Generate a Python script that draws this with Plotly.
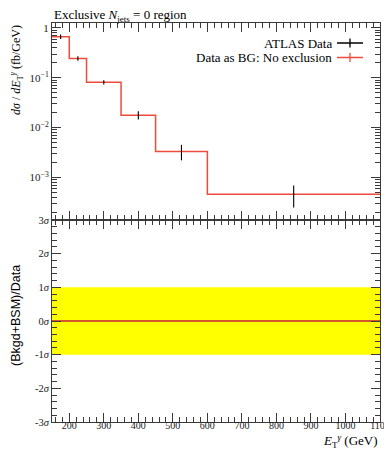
import plotly.graph_objects as go
from plotly.subplots import make_subplots

# ---- data ----
bin_edges = [150, 200, 250, 350, 450, 600, 1100]
bin_centers = [175, 225, 300, 400, 525, 850]
data_values = [0.67, 0.245, 0.081, 0.0177, 0.0033, 0.00046]
data_err_up = [0.07, 0.025, 0.008, 0.0036, 0.0012, 0.00023]
data_err_dn = [0.07, 0.025, 0.008, 0.0032, 0.0011, 0.00021]
bg_values = [0.67, 0.245, 0.081, 0.0177, 0.0033, 0.00046]
ratio_values = [0, 0, 0, 0, 0, 0]
band_lo = [-1, -1, -1, -1, -1, -1]
band_hi = [1, 1, 1, 1, 1, 1]
logy_ticks = [1e-3, 1e-2, 1e-1, 1]
logy_text = ["10<sup>−3</sup>", "10<sup>−2</sup>", "10<sup>−1</sup>", "1"]
logy_minor = [k * 10.0 ** d for d in range(-4, 1) for k in range(2, 10)]
sig_ticks = [-3, -2, -1, 0, 1, 2, 3]
sig_text = ["-3<i>σ</i>", "-2<i>σ</i>", "-1<i>σ</i>", "0<i>σ</i>", "1<i>σ</i>", "2<i>σ</i>", "3<i>σ</i>"]
x_ticks = [200, 300, 400, 500, 600, 700, 800, 900, 1000, 1100]

RED = "#EE4B3A"
AX = "#3a3a3a"
SERIF = "Liberation Serif, DejaVu Serif, serif"
SANS = "Liberation Sans, Arial, sans-serif"
LOGRANGE = [-3.854, 0.1]

fig = make_subplots(rows=2, cols=1, shared_xaxes=True, vertical_spacing=0,
                    row_heights=[197, 202])

def step(vals):
    return list(vals) + [vals[-1]]

# top panel
fig.add_trace(go.Scatter(x=bin_edges, y=step(bg_values), mode="lines", line_shape="hv",
                         line=dict(color=RED, width=1.5), showlegend=False,
                         hoverinfo="skip"), row=1, col=1)
fig.add_trace(go.Scatter(x=bin_centers, y=data_values, mode="markers",
                         marker=dict(size=1, color="black"),
                         error_y=dict(type="data", array=data_err_up, arrayminus=data_err_dn,
                                      color="black", thickness=1.1, width=0),
                         showlegend=False), row=1, col=1)
# invisible trace so the minor-tick overlay axis is drawn
fig.add_trace(go.Scatter(x=bin_centers[:1], y=data_values[:1], mode="markers",
                         marker=dict(size=1, opacity=0), xaxis="x", yaxis="y3",
                         showlegend=False, hoverinfo="skip"))

# bottom panel: band
fig.add_trace(go.Scatter(x=bin_edges, y=step(band_lo), mode="lines", line_shape="hv",
                         line=dict(width=0, color="yellow"), showlegend=False,
                         hoverinfo="skip"), row=2, col=1)
fig.add_trace(go.Scatter(x=bin_edges, y=step(band_hi), mode="lines", line_shape="hv",
                         line=dict(width=0, color="yellow"), fill="tonexty",
                         fillcolor="#FFFF00", showlegend=False, hoverinfo="skip"), row=2, col=1)
fig.add_trace(go.Scatter(x=bin_edges, y=step(ratio_values), mode="lines", line_shape="hv",
                         line=dict(color="black", width=1.2), showlegend=False,
                         hoverinfo="skip"), row=2, col=1)
fig.add_trace(go.Scatter(x=bin_edges, y=step(ratio_values), mode="lines", line_shape="hv",
                         line=dict(color=RED, width=1.4), showlegend=False,
                         hoverinfo="skip"), row=2, col=1)

common_x = dict(range=[150, 1100], tickvals=x_ticks, ticks="inside", ticklen=9,
                tickcolor=AX, showline=True, linecolor=AX, linewidth=1, mirror="ticks",
                showgrid=False, zeroline=False, automargin=False, ticklabeloverflow="allow",
                minor=dict(dtick=20, tick0=0, ticks="inside", ticklen=5, tickcolor=AX, showgrid=False),
                tickfont=dict(family=SERIF, size=10, color="#222"))
fig.update_xaxes(**common_x)
fig.update_xaxes(showticklabels=False, row=1, col=1)
fig.update_xaxes(ticklabelstandoff=-6, row=2, col=1)

fig.update_yaxes(type="log", range=LOGRANGE, tickvals=logy_ticks, ticktext=logy_text,
                 ticks="inside", ticklen=9, tickcolor=AX, showline=True, linecolor=AX,
                 mirror="ticks", showgrid=False, zeroline=False, automargin=False,
                 tickfont=dict(family=SERIF, size=11, color="#222"), row=1, col=1)
fig.update_yaxes(range=[-3, 3], tickvals=sig_ticks, ticktext=sig_text,
                 ticks="inside", ticklen=9, tickcolor=AX, showline=True, linecolor=AX,
                 mirror="ticks", showgrid=False, zeroline=False, automargin=False,
                 minor=dict(dtick=0.2, ticks="inside", ticklen=5, tickcolor=AX, showgrid=False),
                 tickfont=dict(family=SERIF, size=10.5, color="#222"), row=2, col=1)

fig.update_layout(yaxis3=dict(type="log", range=LOGRANGE, overlaying="y", anchor="x", side="left",
                              tickvals=logy_minor, ticks="inside", ticklen=5, tickcolor=AX,
                              showticklabels=False, showline=False, mirror="ticks",
                              showgrid=False, zeroline=False, automargin=False))

# legend (drawn manually, symbols on the right); coordinates relative to plot area
PW = 328.0
PH = 399.0
def px(xp):
    return (xp - 52) / PW
def py(yp):
    return (422 - yp) / PH

legend_items = [("ATLAS Data", "black", 43), ("Data as BG: No exclusion", RED, 57.5)]
annotations = []
shapes = []
for label, col, yy in legend_items:
    annotations.append(dict(text=label, xref="paper", yref="paper", x=px(334), y=py(yy),
                            xanchor="right", yanchor="middle", showarrow=False,
                            font=dict(family=SERIF, size=13, color="black")))
    shapes.append(dict(type="line", xref="paper", yref="paper", x0=px(337), x1=px(363),
                       y0=py(yy), y1=py(yy), line=dict(color=col, width=1.5)))
    shapes.append(dict(type="line", xref="paper", yref="paper", x0=px(350), x1=px(350),
                       y0=py(yy - 4.5), y1=py(yy + 4.5), line=dict(color=col, width=1.3)))

annotations.append(dict(text="Exclusive <i>N</i><sub>jets</sub> = 0 region", xref="paper", yref="paper",
                        x=0, y=py(16), xanchor="left", yanchor="middle", showarrow=False,
                        font=dict(family=SERIF, size=13, color="black")))
annotations.append(dict(text="<i>dσ</i> / <i>dE</i><sub>T</sub><sup><i>γ</i></sup> (fb/GeV)",
                        xref="paper", yref="paper", x=px(16), y=1, xanchor="center",
                        yanchor="top", textangle=-90, showarrow=False,
                        font=dict(family=SERIF, size=12, color="black")))
annotations.append(dict(text="(Bkgd+BSM)/Data", xref="paper", yref="paper", x=px(16), y=py(316),
                        xanchor="center", yanchor="middle", textangle=-90, showarrow=False,
                        font=dict(family=SANS, size=12.5, color="black")))
annotations.append(dict(text="<i>E</i><sub>T</sub><sup><i>γ</i></sup> (GeV)", xref="paper", yref="paper",
                        x=1, y=py(441), xanchor="right", yanchor="middle", showarrow=False,
                        font=dict(family=SERIF, size=13, color="black")))

# page body has an 8px margin: size/margins compensate so the plot lands where the reference has it
fig.update_layout(width=384, height=442, margin=dict(l=44, r=12, t=15, b=28),
                  paper_bgcolor="white", plot_bgcolor="white", showlegend=False,
                  annotations=annotations, shapes=shapes)

fig.write_html("out.html")
